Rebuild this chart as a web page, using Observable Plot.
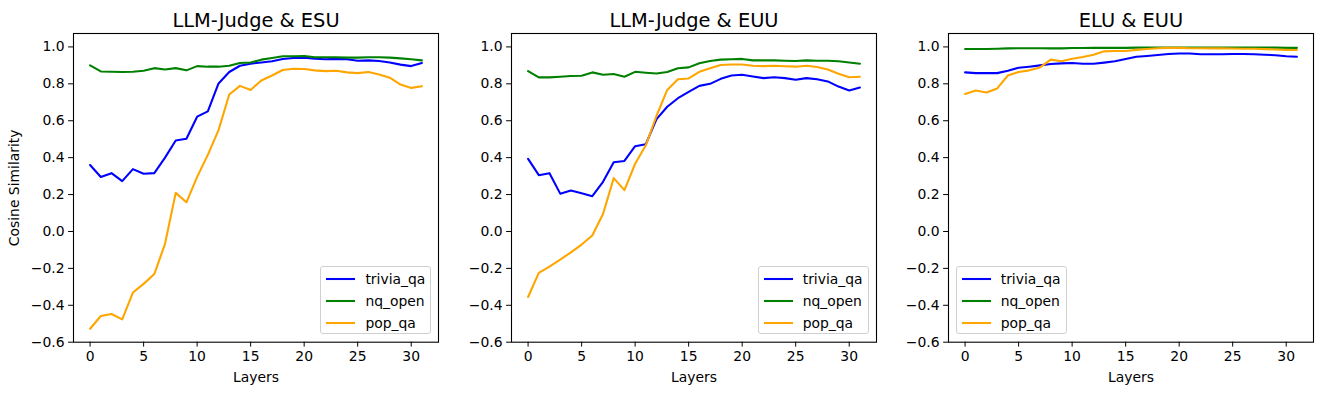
<!DOCTYPE html>
<html>
<head>
<meta charset="utf-8">
<script src="https://cdn.jsdelivr.net/npm/d3@7"></script>
<script src="https://cdn.jsdelivr.net/npm/@observablehq/plot@0.6"></script>
<style>
  body { margin: 0; background: #fff; font-family: "DejaVu Sans", sans-serif; }
  #chart { position: relative; width: 1323px; height: 394px; overflow: hidden; background: #fff; }
  .panel { position: absolute; top: 0; }
  .legend { position: absolute; box-sizing: border-box; width: 111px; height: 68px;
            border: 1px solid #d0d0d0; border-radius: 3px; background: rgba(255,255,255,0.8);
            font-family: "DejaVu Sans", sans-serif; font-size: 13.9px; color: #000; }
  .legend .row { position: absolute; left: 0; height: 20px; display: flex; align-items: center; }
  .legend svg { margin-left: 5px; margin-right: 10px; }
</style>
</head>
<body>
<div id="chart"></div>
<script>
// ---- data ----
const layers = [0,1,2,3,4,5,6,7,8,9,10,11,12,13,14,15,16,17,18,19,20,21,22,23,24,25,26,27,28,29,30,31];
const seriesNames = ["trivia_qa", "nq_open", "pop_qa"];
const seriesColors = ["blue", "green", "orange"];
const panelTitles = ["LLM-Judge & ESU", "LLM-Judge & EUU", "ELU & EUU"];
const xTicks = [0, 5, 10, 15, 20, 25, 30];
const yTicks = [-0.6, -0.4, -0.2, 0, 0.2, 0.4, 0.6, 0.8, 1.0];

// Panel 1: LLM-Judge & ESU
const esuTrivia = [0.360,0.295,0.316,0.273,0.338,0.313,0.316,0.400,0.493,0.502,0.622,0.651,0.802,0.864,0.898,0.909,0.916,0.922,0.935,0.940,0.942,0.936,0.933,0.935,0.933,0.925,0.927,0.924,0.916,0.904,0.896,0.913];
const esuNq     = [0.900,0.867,0.865,0.864,0.865,0.871,0.885,0.878,0.885,0.873,0.896,0.893,0.893,0.898,0.913,0.916,0.931,0.940,0.949,0.949,0.951,0.944,0.944,0.944,0.942,0.942,0.944,0.944,0.942,0.938,0.933,0.927];
const esuPop    = [-0.527,-0.458,-0.447,-0.476,-0.331,-0.284,-0.231,-0.067,0.209,0.158,0.296,0.415,0.549,0.742,0.789,0.767,0.818,0.845,0.875,0.882,0.880,0.873,0.869,0.871,0.862,0.858,0.864,0.851,0.833,0.796,0.778,0.787];

// Panel 2: LLM-Judge & EUU
const euuTrivia = [0.393,0.305,0.316,0.205,0.222,0.207,0.191,0.269,0.375,0.382,0.462,0.473,0.609,0.676,0.722,0.756,0.789,0.800,0.827,0.845,0.849,0.840,0.831,0.836,0.831,0.822,0.831,0.825,0.813,0.785,0.764,0.780];
const euuNq     = [0.869,0.835,0.835,0.838,0.842,0.844,0.862,0.849,0.853,0.838,0.865,0.860,0.856,0.864,0.884,0.889,0.911,0.924,0.931,0.933,0.935,0.927,0.927,0.927,0.925,0.924,0.927,0.925,0.925,0.922,0.916,0.909];
const euuPop    = [-0.355,-0.224,-0.191,-0.153,-0.113,-0.071,-0.022,0.095,0.289,0.224,0.367,0.467,0.627,0.767,0.825,0.829,0.865,0.884,0.902,0.905,0.905,0.898,0.896,0.898,0.895,0.893,0.898,0.891,0.878,0.855,0.836,0.838];

// Panel 3: ELU & EUU
const eluTrivia = [0.862,0.858,0.858,0.858,0.871,0.887,0.893,0.900,0.907,0.911,0.913,0.909,0.909,0.915,0.922,0.935,0.947,0.951,0.956,0.962,0.964,0.964,0.960,0.960,0.960,0.962,0.962,0.960,0.958,0.955,0.949,0.947];
const eluNq     = [0.989,0.989,0.989,0.990,0.992,0.993,0.993,0.993,0.992,0.992,0.994,0.994,0.995,0.995,0.995,0.995,0.996,0.996,0.996,0.996,0.996,0.996,0.996,0.996,0.996,0.996,0.996,0.996,0.996,0.996,0.995,0.995];
const eluPop    = [0.745,0.764,0.753,0.775,0.845,0.864,0.873,0.889,0.931,0.922,0.936,0.945,0.958,0.976,0.978,0.978,0.984,0.989,0.993,0.995,0.995,0.993,0.993,0.992,0.992,0.991,0.990,0.990,0.988,0.986,0.984,0.983];

const panelSeries = [
  [esuTrivia, esuNq, esuPop],
  [euuTrivia, euuNq, euuPop],
  [eluTrivia, eluNq, eluPop]
];

// ---- layout ----
const panelLefts = [73.4, 510.7, 948.4];   // left edge of each axes box
const axW = 365, mL = 73, mR = 5, mT = 33, mB = 52.3, H = 394;
const legendLoc = ["right", "right", "left"];

const fmt = d => d.toFixed(1).replace("-", "\u2212");
const chart = document.getElementById("chart");

panelSeries.forEach((series, p) => {
  const rows = [];
  series.forEach((vals, s) => {
    vals.forEach((v, i) => rows.push({layer: layers[i], value: v, series: seriesNames[s]}));
  });
  const marks = [];
  seriesNames.forEach((name, s) => {
    marks.push(Plot.line(rows.filter(r => r.series === name), {
      x: "layer", y: "value", stroke: seriesColors[s], strokeWidth: 2.08, strokeLinejoin: "round"
    }));
  });
  marks.push(Plot.axisX({ticks: xTicks, tickSize: 4.9, tickPadding: 4, tickFormat: d => String(d),
    label: "Layers", labelAnchor: "center", labelArrow: "none", labelOffset: 40, fontSize: 13.9}));
  marks.push(Plot.axisY({ticks: yTicks, tickSize: 4.9, tickPadding: 4, tickFormat: fmt,
    label: p === 0 ? "Cosine Similarity" : null, labelAnchor: "center", labelArrow: "none",
    labelOffset: 64, fontSize: 13.9}));
  marks.push(Plot.frame({stroke: "black", strokeWidth: 1.1}));
  marks.push(Plot.text([panelTitles[p]], {frameAnchor: "top", lineAnchor: "bottom", dy: -7, fontSize: 19.4, fill: "black"}));

  const svg = Plot.plot({
    width: mL + axW + mR, height: H,
    marginLeft: mL, marginRight: mR, marginTop: mT, marginBottom: mB,
    x: {domain: [-1.55, 32.55]},
    y: {domain: [-0.6, 1.0727]},
    style: {fontFamily: "DejaVu Sans, sans-serif", fontSize: "13.9px", color: "black", background: "transparent", overflow: "visible"},
    marks
  });
  svg.classList.add("panel");
  svg.style.left = (panelLefts[p] - mL) + "px";
  chart.appendChild(svg);

  // legend
  const lg = document.createElement("div");
  lg.className = "legend";
  const lgLeft = legendLoc[p] === "right" ? panelLefts[p] + axW - 7 - 111 : panelLefts[p] + 7.3;
  lg.style.left = lgLeft + "px";
  lg.style.top = "266px";
  seriesNames.forEach((name, s) => {
    const row = document.createElement("div");
    row.className = "row";
    row.style.top = (2.3 + s * 21.7) + "px";
    row.innerHTML = `<svg width="29" height="4"><line x1="0" y1="2" x2="29" y2="2" stroke="${seriesColors[s]}" stroke-width="2.08"/></svg><span>${name}</span>`;
    lg.appendChild(row);
  });
  chart.appendChild(lg);
});
</script>
</body>
</html>
